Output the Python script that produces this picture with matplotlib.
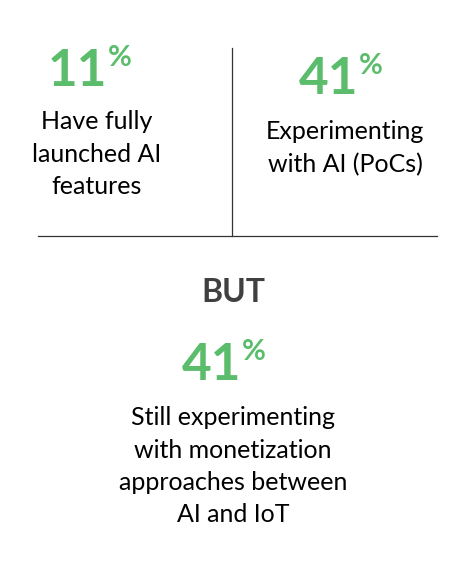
import matplotlib
matplotlib.use("Agg")
import matplotlib.pyplot as plt

values = [11, 41, 41]
labels = ["Have fully\nlaunched AI\nfeatures", "Experimenting\nwith AI (PoCs)",
          "Still experimenting\nwith monetization\napproaches between\nAI and IoT"]
divider_word = "BUT"

W, H = 467, 567
fig = plt.figure(figsize=(W/100, H/100), dpi=100)
fig.patch.set_facecolor("white")
green = "#5bbd6c"
fam = ["Lato", "DejaVu Sans"]

def px(x, y):
    return x / W, 1 - y / H

# number right edge, number center y, label center x, label top y
layout = [(107, 72, 97, 110), (358, 80, 345, 120), (241, 366, 233, 406)]
for v, lab, (nx, ny, lx, ly) in zip(values, labels, layout):
    fig.text(*px(nx, ny), str(v), ha="right", va="center", color=green,
             fontsize=37, fontweight="bold", family=fam)
    fig.text(*px(nx + 1, ny - 14), "%", ha="left", va="center", color=green,
             fontsize=21, fontweight="bold", family=fam)
    fig.text(*px(lx, ly), lab, ha="center", va="top", color="black",
             fontsize=18, family=fam, linespacing=1.5)

fig.text(*px(233, 293), divider_word, ha="center", va="center", color="#404040",
         fontsize=23, fontweight="bold", family=fam)

fig.add_artist(plt.Line2D([232/W, 232/W], [1-48/H, 1-236/H], color="#333333", lw=0.9))
fig.add_artist(plt.Line2D([38/W, 437/W], [1-236/H, 1-236/H], color="#333333", lw=0.9))

fig.savefig("out.png", dpi=100, facecolor="white")
